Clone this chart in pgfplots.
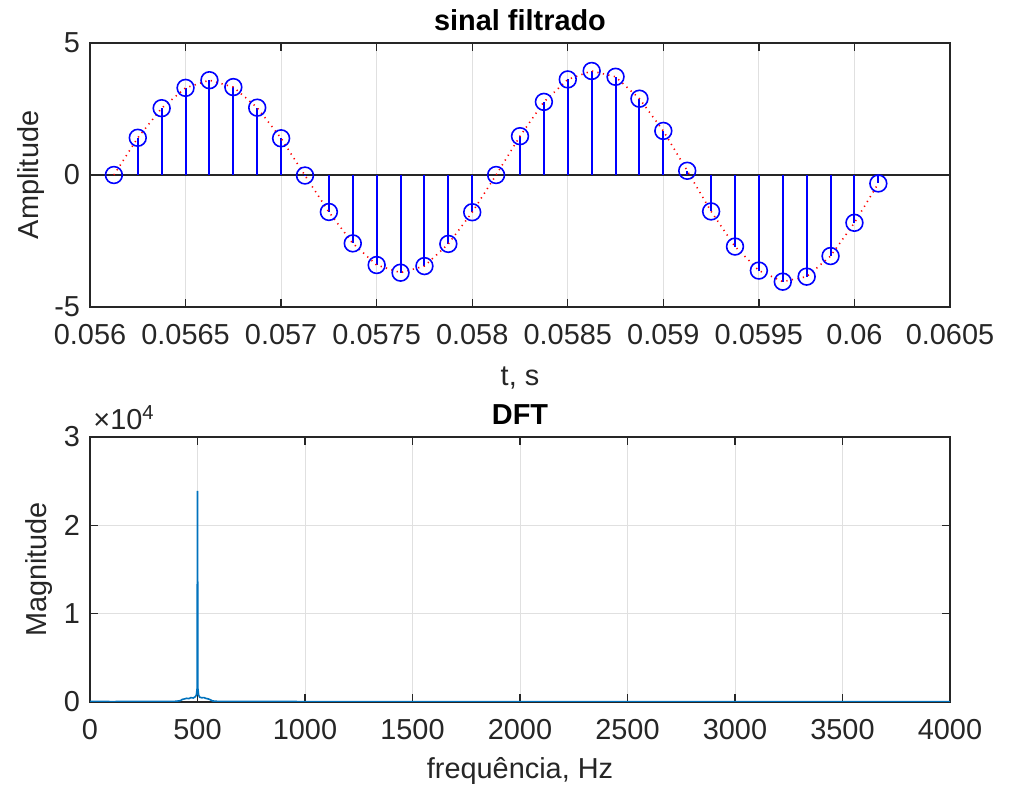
\documentclass[border=0pt]{standalone}
\usepackage{fontspec}
\setmainfont{Liberation Sans}
\usepackage{pgfplots}
\pgfplotsset{compat=1.18}
\definecolor{mblue}{rgb}{0,0.447,0.741}
\definecolor{axgray}{rgb}{0.15,0.15,0.15}

\pgfplotsset{
  matlab/.style={
    scale only axis, width=430bp,
    axis line style={axgray, line width=0.7bp},
    every tick/.style={axgray, line width=0.7bp},
    major tick length=4bp,
    tick align=inside,
    grid=major, grid style={line width=0.5bp, draw=black!12},
    tick label style={font=\fontsize{14.5}{17}\selectfont, text=axgray},
    label style={font=\fontsize{14.5}{17}\selectfont, text=axgray},
    title style={font=\fontsize{14.5}{17}\selectfont\bfseries},
    every axis title shift=0pt,
    xticklabel style={yshift=-5bp},
    yticklabel style={xshift=-1.5bp},
    scaled x ticks=false, scaled y ticks=false,
  },
}

\begin{document}
\begin{tikzpicture}
\path[use as bounding box] (0,0) rectangle (505bp,392.5bp);

% sinal filtrado
\begin{axis}[matlab,
  at={(45bp,239bp)}, anchor=south west, height=132bp,
  xmin=0.056, xmax=0.0605, ymin=-5, ymax=5,
  xtick={0.056,0.0565,0.057,0.0575,0.058,0.0585,0.059,0.0595,0.06,0.0605},
  xticklabels={0.056,0.0565,0.057,0.0575,0.058,0.0585,0.059,0.0595,0.06,0.0605},
  ytick={-5,0,5}, yticklabels={-5,0,5},
  title={sinal filtrado},
  title style={at={(axis description cs:0.5,1.087)}, anchor=center},
  xlabel={t, s},
  xlabel style={at={(axis description cs:0.5,-0.27)}, anchor=center},
  ylabel={Amplitude},
  ylabel style={at={(axis description cs:-0.068,0.5)}, anchor=center, rotate=0},
]
\addplot[black!85, line width=0.7bp, forget plot] coordinates {(0.056,0)(0.0605,0)};
\addplot[ycomb, blue, line width=1bp, mark=o, mark size=4.2bp,
         mark options={line width=0.8bp, solid}] coordinates {
  (0.056125,0.00)(0.05625,1.41)(0.056375,2.53)(0.0565,3.30)(0.056625,3.59)
  (0.05675,3.33)(0.056875,2.55)(0.057,1.39)(0.057125,-0.02)(0.05725,-1.40)
  (0.057375,-2.59)(0.0575,-3.41)(0.057625,-3.70)(0.05775,-3.45)(0.057875,-2.61)
  (0.058,-1.41)(0.058125,0.00)(0.05825,1.47)(0.058375,2.77)(0.0585,3.62)
  (0.058625,3.94)(0.05875,3.72)(0.058875,2.89)(0.059,1.67)(0.059125,0.16)
  (0.05925,-1.38)(0.059375,-2.71)(0.0595,-3.62)(0.059625,-4.04)(0.05975,-3.85)
  (0.059875,-3.07)(0.06,-1.81)(0.060125,-0.32)
};
\addplot[red, line width=0.8bp, dash pattern=on 0.6bp off 2.2bp] coordinates {
  (0.056125,0.00)(0.05625,1.41)(0.056375,2.53)(0.0565,3.30)(0.056625,3.59)
  (0.05675,3.33)(0.056875,2.55)(0.057,1.39)(0.057125,-0.02)(0.05725,-1.40)
  (0.057375,-2.59)(0.0575,-3.41)(0.057625,-3.70)(0.05775,-3.45)(0.057875,-2.61)
  (0.058,-1.41)(0.058125,0.00)(0.05825,1.47)(0.058375,2.77)(0.0585,3.62)
  (0.058625,3.94)(0.05875,3.72)(0.058875,2.89)(0.059,1.67)(0.059125,0.16)
  (0.05925,-1.38)(0.059375,-2.71)(0.0595,-3.62)(0.059625,-4.04)(0.05975,-3.85)
  (0.059875,-3.07)(0.06,-1.81)(0.060125,-0.32)
};
\end{axis}

% DFT
\begin{axis}[matlab,
  at={(45bp,41.5bp)}, anchor=south west, height=132.5bp,
  xmin=0, xmax=4000, ymin=0, ymax=30000,
  xtick={0,500,1000,1500,2000,2500,3000,3500,4000},
  xticklabels={0,500,1000,1500,2000,2500,3000,3500,4000},
  ytick={0,10000,20000,30000}, yticklabels={0,1,2,3},
  title={DFT},
  title style={at={(axis description cs:0.5,1.083)}, anchor=center},
  xlabel={frequência, Hz},
  xlabel style={at={(axis description cs:0.5,-0.26)}, anchor=center},
  ylabel={Magnitude},
  ylabel style={at={(axis description cs:-0.059,0.5)}, anchor=center},
]
\addplot[mblue, line width=0.8bp] coordinates {
  (0,60)(100,50)(200,55)(300,60)(400,80)(420,150)(430,300)(440,350)
  (450,420)(460,380)(470,500)(480,450)(490,600)(495,800)(498,1500)
  (500,23900)(502,1500)(505,800)(510,550)(520,480)(530,500)(540,400)
  (550,350)(560,250)(570,120)(600,60)(1000,50)(2000,40)(3000,35)(4000,30)
};
\end{axis}
\node[anchor=base west, text=axgray, font=\fontsize{14.5}{17}\selectfont, inner sep=0pt]
  at (46.5bp,177.5bp) {×10\textsuperscript{4}};
\end{tikzpicture}
\end{document}
